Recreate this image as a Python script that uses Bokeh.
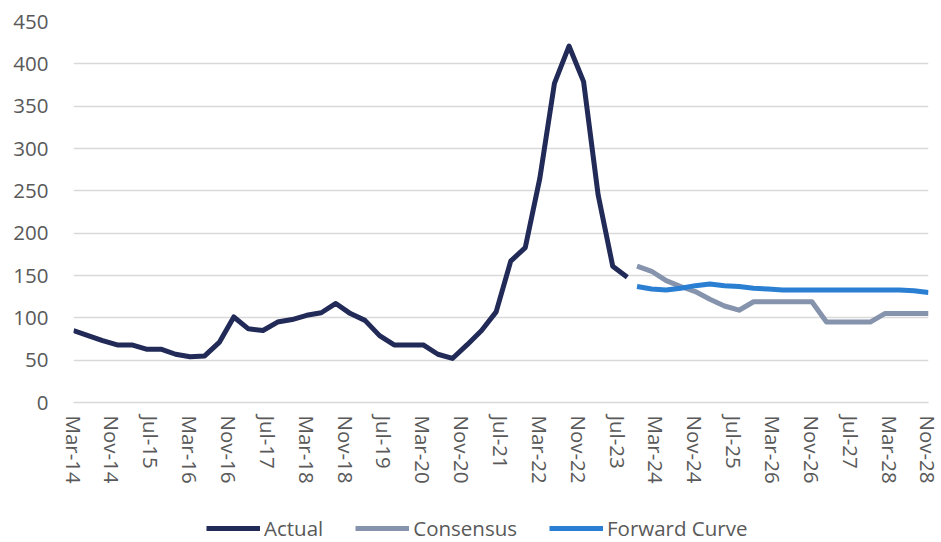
import pandas as pd
from bokeh.plotting import figure
from bokeh.layouts import column
from bokeh.models import (ColumnDataSource, FixedTicker, Legend, LegendItem, Range1d)
from bokeh.embed import file_html
from bokeh.resources import INLINE

# ---------------- data ----------------
tick_labels = ["Mar-14", "Nov-14", "Jul-15", "Mar-16", "Nov-16", "Jul-17", "Mar-18",
               "Nov-18", "Jul-19", "Mar-20", "Nov-20", "Jul-21", "Mar-22", "Nov-22",
               "Jul-23", "Mar-24", "Nov-24", "Jul-25", "Mar-26", "Nov-26", "Jul-27",
               "Mar-28", "Nov-28"]

actual_dates = pd.date_range("2014-03-01", periods=39, freq="3MS")
actual = [85, 79, 73, 68, 68, 63, 63, 57, 54, 55, 71, 101, 87, 85, 95, 98, 103, 106,
          117, 105, 97, 79, 68, 68, 68, 57, 52, 68, 85, 107, 167, 183, 265, 377, 421,
          379, 245, 161, 148]

forecast_dates = pd.date_range("2023-11-01", periods=21, freq="3MS")
consensus = [161, 155, 144, 137, 131, 122, 114, 109, 119, 119, 119, 119, 119,
             95, 95, 95, 95, 105, 105, 105, 105]
forward_curve = [137, 134, 133, 135, 138, 140, 138, 137, 135, 134, 133, 133, 133,
                 133, 133, 133, 133, 133, 133, 132, 130]

series_names = ["Actual", "Consensus", "Forward Curve"]
series_colors = ["#222a58", "#8693ad", "#2b7fd3"]

y_ticks = [0, 50, 100, 150, 200, 250, 300, 350, 400, 450]

# ---------------- helpers ----------------
start = pd.Timestamp("2014-03-01")


def month_index(dates):
    return [(d.year - start.year) * 12 + d.month - start.month for d in dates]


tick_dates = pd.date_range("2014-03-01", periods=len(tick_labels), freq="8MS")
tick_pos = month_index(tick_dates)

sources = [
    ColumnDataSource(dict(x=month_index(actual_dates), y=actual)),
    ColumnDataSource(dict(x=month_index(forecast_dates), y=consensus)),
    ColumnDataSource(dict(x=month_index(forecast_dates), y=forward_curve)),
]

FONT = "Open Sans"
FS = "20.5px"
TXT = "#595959"
GRID = "#d9d9d9"
LW = 5

p = figure(width=941, height=502, output_backend="svg", toolbar_location=None,
           x_range=Range1d(tick_pos[0], tick_pos[-1]), y_range=Range1d(0, 450),
           min_border_left=73, min_border_right=13, min_border_top=21,
           min_border_bottom=100)
p.outline_line_color = None
p.border_fill_color = "white"

for src, col in zip(sources, series_colors):
    p.line("x", "y", source=src, line_color=col, line_width=LW, line_join="round")

# grid
p.xgrid.grid_line_color = None
p.ygrid.grid_line_color = GRID
p.ygrid.grid_line_width = 1.5
p.ygrid.ticker = FixedTicker(ticks=y_ticks)

# y axis
p.yaxis.ticker = FixedTicker(ticks=y_ticks)
p.yaxis.axis_line_color = None
p.yaxis.major_tick_line_color = None
p.yaxis.minor_tick_line_color = None
p.yaxis.major_label_text_font = FONT
p.yaxis.major_label_text_font_size = FS
p.yaxis.major_label_text_color = TXT
p.yaxis.major_label_standoff = 19

# x axis
p.xaxis.ticker = FixedTicker(ticks=tick_pos)
p.xaxis.major_label_overrides = {t: l for t, l in zip(tick_pos, tick_labels)}
p.xaxis.major_label_orientation = "vertical"
p.xaxis.axis_line_color = GRID
p.xaxis.axis_line_width = 1.5
p.xaxis.major_tick_line_color = None
p.xaxis.minor_tick_line_color = None
p.xaxis.major_tick_out = 0
p.xaxis.major_label_text_font = FONT
p.xaxis.major_label_text_font_size = FS
p.xaxis.major_label_text_color = TXT
p.xaxis.major_label_standoff = 13

# ---------------- legend strip ----------------
pl = figure(width=941, height=40, output_backend="svg", toolbar_location=None,
            x_range=Range1d(0, 1), y_range=Range1d(0, 1),
            x_axis_type=None, y_axis_type=None,
            min_border_left=0, min_border_right=0, min_border_top=0,
            min_border_bottom=0)
pl.grid.grid_line_color = None
pl.outline_line_color = None
pl.border_fill_color = "white"

items = []
for name, col in zip(series_names, series_colors):
    # legend-only proxy renderer, kept outside the visible range
    r = pl.line(x=[-5, -4], y=[-5, -4], line_color=col, line_width=LW)
    items.append(LegendItem(label=name, renderers=[r]))

legend = Legend(items=items, orientation="horizontal", location=(133, 0))
legend.border_line_color = None
legend.background_fill_alpha = 0
legend.label_text_font = FONT
legend.label_text_font_size = FS
legend.label_text_color = TXT
legend.glyph_width = 54
legend.glyph_height = 20
legend.label_standoff = 4
legend.spacing = 32
legend.padding = 0
legend.margin = 0
pl.add_layout(legend, "center")

layout = column(p, pl, spacing=0)
open("out.html", "w").write(file_html(layout, INLINE))
